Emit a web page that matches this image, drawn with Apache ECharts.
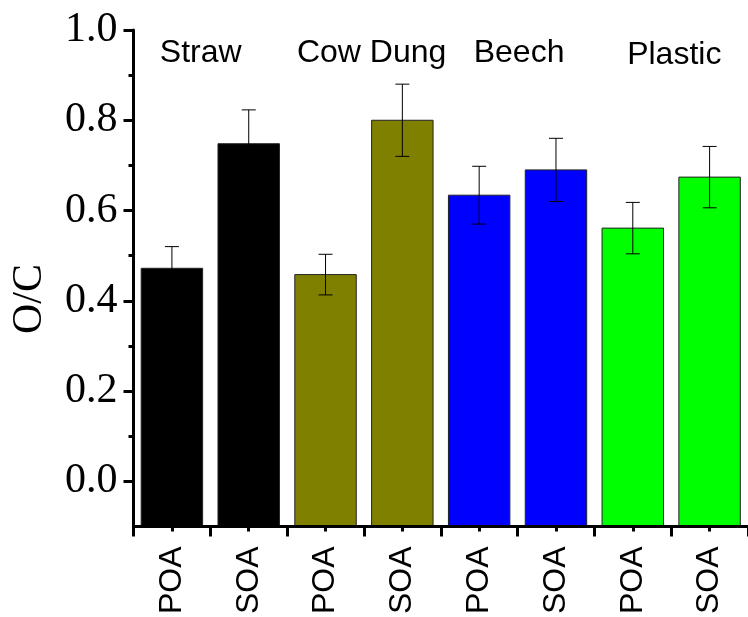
<!DOCTYPE html>
<html><head><meta charset="utf-8">
<script src="https://cdn.jsdelivr.net/npm/echarts@6/dist/echarts.min.js"></script>
<style>html,body{margin:0;padding:0;background:#fff}#c{width:748px;height:617px}</style>
</head><body><div id="c"></div>
<script>
// ---- data ----
const categories = ['POA','SOA','POA','SOA','POA','SOA','POA','SOA'];
const values = [0.472, 0.748, 0.458, 0.800, 0.634, 0.690, 0.561, 0.674];
const errors = [0.048, 0.075, 0.045, 0.080, 0.064, 0.070, 0.057, 0.068];
const groupNames = ['Straw', 'Cow Dung', 'Beech', 'Plastic'];
const groupLabelX = [0.875, 3.10, 5.02, 7.04];   // position along axis, in category units
const groupLabelY = [0.948, 0.948, 0.948, 0.945];
const yMajorTicks = [0, 0.2, 0.4, 0.6, 0.8, 1.0];
const yMinorTicks = [0.1, 0.3, 0.5, 0.7, 0.9];
const yMin = -0.1, yMax = 1.0;

// ---- styles ----
const barColors = ['#000000','#000000','#808000','#808000','#0000ff','#0000ff','#00ff00','#00ff00'];

const chart = echarts.init(document.getElementById('c'), null, {renderer: 'canvas'});

chart.setOption({
  animation: false,
  backgroundColor: '#fff',
  grid: {left: 133.5, top: 30, width: 622, height: 500},
  xAxis: [
    {type: 'category', data: categories, position: 'bottom', z: 10,
     axisLine: {show: true, onZero: false, lineStyle: {color: '#000', width: 3}},
     axisTick: {show: true, alignWithLabel: false, interval: 0, length: 10, lineStyle: {color: '#000', width: 3}},
     axisLabel: {show: true, interval: 0, rotate: 90, margin: 20, fontSize: 32,
                 fontFamily: 'Liberation Sans', color: '#000'},
     splitLine: {show: false}},
    {type: 'category', data: categories, position: 'bottom', z: 10,
     axisLine: {show: false, onZero: false},
     axisTick: {show: true, alignWithLabel: true, interval: 0, length: 5, lineStyle: {color: '#000', width: 3}},
     axisLabel: {show: false}, splitLine: {show: false}},
    {type: 'value', min: 0, max: 8, show: false, axisLine: {onZero: false}}
  ],
  yAxis: [
    {type: 'value', min: yMin, max: yMax, position: 'left', z: 10,
     axisLine: {show: true, onZero: false, lineStyle: {color: '#000', width: 3}},
     axisTick: {show: true, customValues: yMajorTicks, length: 10, lineStyle: {color: '#000', width: 3}},
     axisLabel: {show: true, customValues: yMajorTicks, margin: 16, fontSize: 42,
                 fontFamily: 'Liberation Serif', color: '#000',
                 formatter: v => Number(v).toFixed(1)},
     splitLine: {show: false}},
    {type: 'value', min: yMin, max: yMax, position: 'left', z: 10,
     axisLine: {show: false, onZero: false},
     axisTick: {show: true, customValues: yMinorTicks, length: 5, lineStyle: {color: '#000', width: 3}},
     axisLabel: {show: false}, splitLine: {show: false}}
  ],
  series: [
    {
      type: 'custom', xAxisIndex: 0, yAxisIndex: 0, z: 2,
      data: values.map((v, i) => [i, v, errors[i]]),
      renderItem: function (params, api) {
        const i = api.value(0), v = api.value(1), e = api.value(2);
        const top = api.coord([i, v]);
        const base = api.coord([i, yMin]);
        const hi = api.coord([i, v + e]);
        const lo = api.coord([i, v - e]);
        const w = api.size([1, 0])[0] * 0.8;
        const cap = 7;
        return {type: 'group', children: [
          {type: 'rect', shape: {x: top[0] - w / 2, y: top[1], width: w, height: base[1] - top[1]},
           style: {fill: barColors[i], stroke: '#222', lineWidth: 1}},
          {type: 'line', shape: {x1: top[0], y1: hi[1], x2: top[0], y2: lo[1]}, style: {stroke: '#000', lineWidth: 1}},
          {type: 'line', shape: {x1: top[0] - cap, y1: hi[1], x2: top[0] + cap, y2: hi[1]}, style: {stroke: '#000', lineWidth: 1}},
          {type: 'line', shape: {x1: top[0] - cap, y1: lo[1], x2: top[0] + cap, y2: lo[1]}, style: {stroke: '#000', lineWidth: 1}}
        ]};
      }
    },
    {
      type: 'custom', xAxisIndex: 2, yAxisIndex: 0, z: 3,
      data: groupNames.map((n, i) => [groupLabelX[i], groupLabelY[i]]),
      renderItem: function (params, api) {
        const p = api.coord([api.value(0), api.value(1)]);
        return {type: 'text', x: p[0], y: p[1],
                style: {text: groupNames[params.dataIndex], fill: '#000', fontSize: 32,
                        fontFamily: 'Liberation Sans', align: 'center', verticalAlign: 'middle'}};
      }
    }
  ],
  graphic: [
    {type: 'text', x: 30, y: 299, rotation: Math.PI / 2,
     style: {text: 'O/C', fill: '#000', fontSize: 42, fontFamily: 'Liberation Serif',
             align: 'center', verticalAlign: 'middle'}}
  ]
});
</script>
</body></html>
